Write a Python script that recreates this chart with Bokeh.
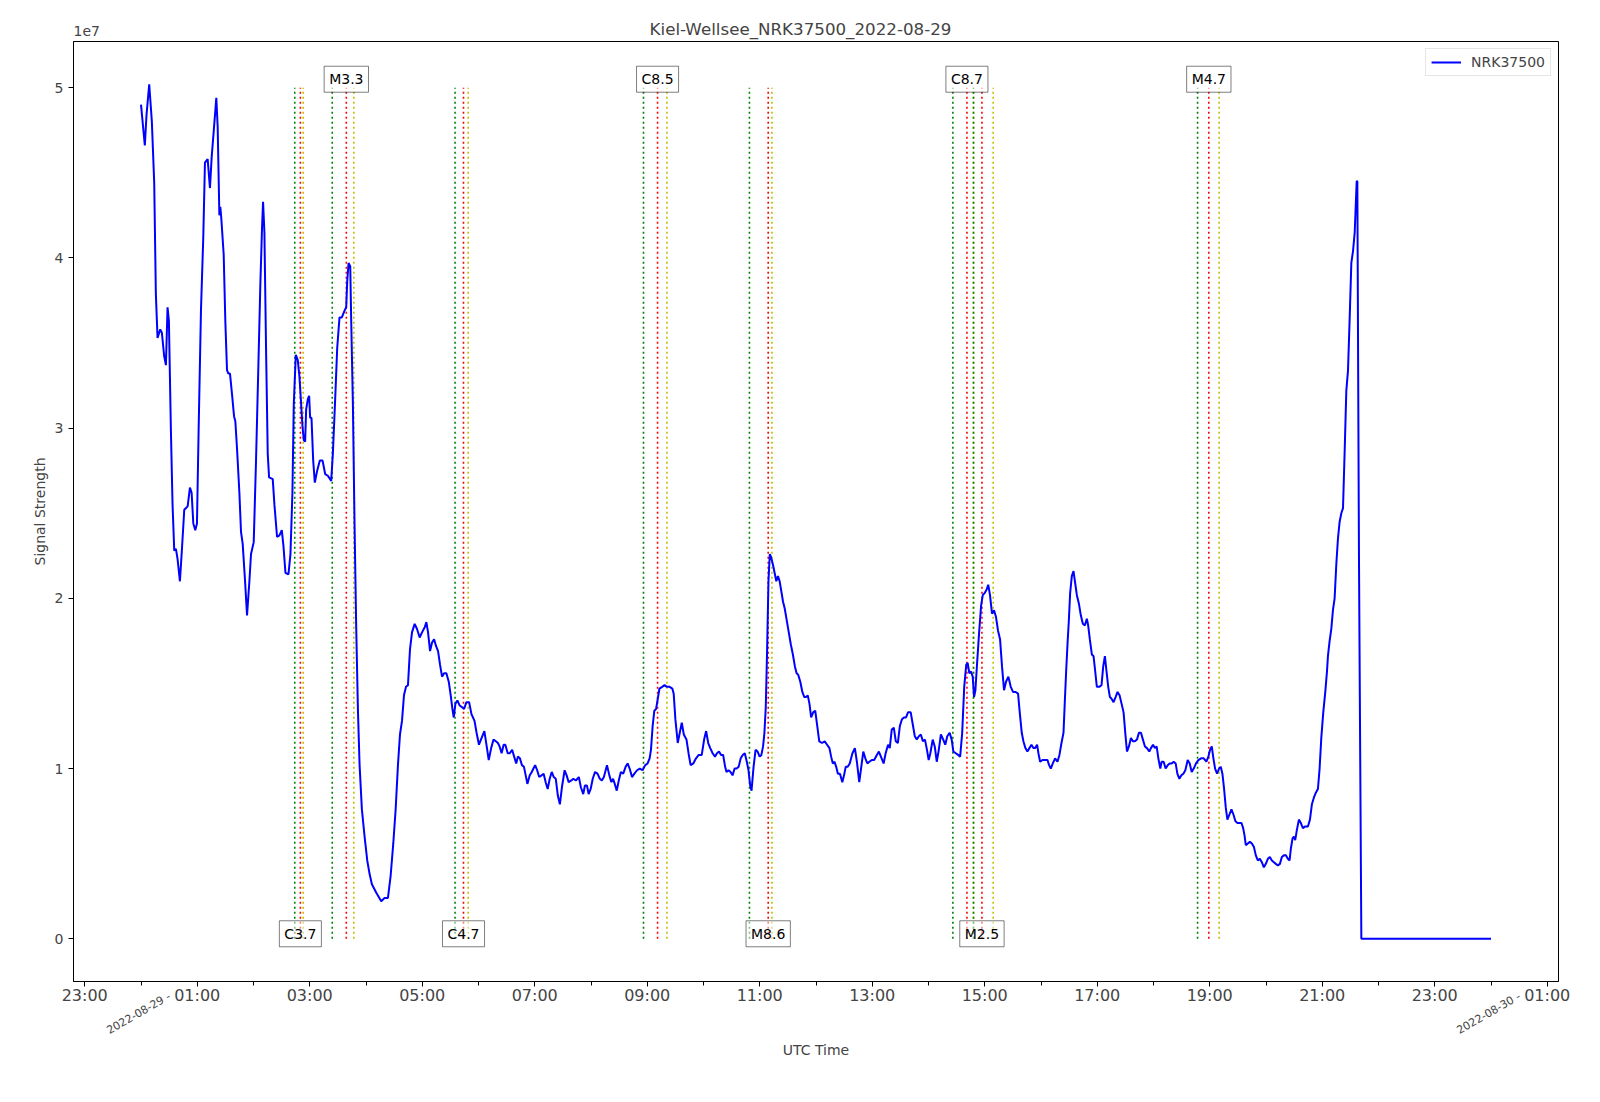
import math
import pandas as pd
from bokeh.plotting import figure
from bokeh.models import (ColumnDataSource, FixedTicker, CustomJSTickFormatter,
                          Label, Legend, LegendItem, Range1d, LinearAxis)
from bokeh.embed import file_html
from bokeh.resources import INLINE

# ---------------- data ----------------
title_text = "Kiel-Wellsee_NRK37500_2022-08-29"
station = "NRK37500"
day = "2022-08-29"

# hours after 2022-08-29 00:00 UTC
hours = [
    0.000, 0.068, 0.098, 0.146, 0.193, 0.235, 0.264, 0.294, 0.342, 0.371, 0.413, 0.443, 0.472, 0.496,
    0.532, 0.561, 0.591, 0.621, 0.650, 0.692, 0.728, 0.769, 0.829, 0.870, 0.900, 0.930, 0.965, 0.995,
    1.024, 1.066, 1.107, 1.137, 1.185, 1.226, 1.256, 1.292, 1.339, 1.363, 1.393, 1.410, 1.428, 1.470,
    1.499, 1.529, 1.553, 1.582, 1.618, 1.654, 1.677, 1.707, 1.749, 1.778, 1.808, 1.850, 1.885, 1.927,
    1.956, 2.004, 2.045, 2.087, 2.123, 2.152, 2.170, 2.194, 2.223, 2.253, 2.277, 2.342, 2.372, 2.419,
    2.461, 2.503, 2.532, 2.568, 2.621, 2.657, 2.692, 2.716, 2.752, 2.787, 2.817, 2.847, 2.871, 2.894,
    2.918, 2.936, 2.966, 2.989, 3.007, 3.031, 3.061, 3.090, 3.132, 3.179, 3.227, 3.274, 3.322, 3.381,
    3.411, 3.452, 3.488, 3.529, 3.571, 3.619, 3.648, 3.666, 3.690, 3.720, 3.737, 3.767, 3.797, 3.826,
    3.856, 3.886, 3.927, 3.975, 4.022, 4.064, 4.105, 4.183, 4.271, 4.331, 4.390, 4.438, 4.485, 4.527,
    4.568, 4.604, 4.640, 4.675, 4.711, 4.746, 4.782, 4.818, 4.865, 4.907, 4.954, 4.996, 5.044, 5.073,
    5.103, 5.139, 5.174, 5.210, 5.245, 5.281, 5.316, 5.352, 5.388, 5.429, 5.471, 5.506, 5.536, 5.560,
    5.589, 5.625, 5.666, 5.708, 5.744, 5.785,
    5.833, 5.875, 5.929, 5.966, 6.008, 6.056, 6.104, 6.146, 6.182, 6.225, 6.267, 6.309, 6.345, 6.375,
    6.411, 6.447, 6.477, 6.519, 6.556, 6.598, 6.634, 6.670, 6.700, 6.736, 6.772, 6.808, 6.839, 6.869,
    6.911, 6.947, 6.977, 7.007, 7.043, 7.079, 7.122, 7.158, 7.194, 7.230, 7.266, 7.302, 7.338, 7.374,
    7.411, 7.447, 7.483, 7.531, 7.567, 7.603, 7.651, 7.687, 7.730, 7.784, 7.820, 7.862, 7.892, 7.928,
    7.958, 7.994, 8.031, 8.073, 8.115, 8.157, 8.193, 8.229, 8.284, 8.326, 8.362, 8.392, 8.422, 8.458,
    8.494, 8.531, 8.573, 8.615, 8.651, 8.687, 8.729, 8.771, 8.819, 8.867, 8.916, 8.964, 9.006, 9.042,
    9.066, 9.096, 9.126, 9.157, 9.187, 9.217, 9.265, 9.307, 9.349, 9.397, 9.446, 9.470, 9.500, 9.542,
    9.578, 9.614, 9.650, 9.698, 9.734, 9.771, 9.819, 9.867, 9.915, 9.969, 10.011, 10.047, 10.084, 10.120,
    10.162, 10.204, 10.240, 10.276, 10.312, 10.349, 10.385, 10.409, 10.445, 10.481, 10.517, 10.553,
    10.589, 10.625, 10.662, 10.698, 10.734, 10.770, 10.800, 10.830, 10.854, 10.890, 10.926, 10.962,
    10.998, 11.029, 11.059, 11.083, 11.107, 11.131, 11.155, 11.179, 11.203, 11.233, 11.264, 11.294,
    11.324, 11.354, 11.384, 11.414, 11.444, 11.480, 11.516, 11.552, 11.589, 11.625, 11.655, 11.685,
    11.721, 11.757, 11.793, 11.823, 11.854, 11.884, 11.914, 11.950, 11.986, 12.022, 12.058, 12.107,
    12.155, 12.197, 12.239, 12.269, 12.299, 12.329, 12.359, 12.389, 12.426, 12.468, 12.498, 12.528,
    12.564, 12.600, 12.648, 12.691, 12.727, 12.769, 12.805, 12.841, 12.877, 12.913, 12.949, 12.992,
    13.034, 13.082, 13.118, 13.154, 13.202, 13.238, 13.281, 13.311, 13.347, 13.383, 13.419, 13.455,
    13.491, 13.528, 13.564, 13.600, 13.636, 13.684, 13.720, 13.756, 13.792, 13.828, 13.864, 13.900,
    13.937, 13.973, 14.003, 14.033, 14.075, 14.111, 14.147, 14.183, 14.220, 14.262, 14.298, 14.334,
    14.376, 14.412, 14.442, 14.485, 14.527, 14.563, 14.599, 14.635, 14.671, 14.696, 14.726, 14.756,
    14.786, 14.810, 14.834, 14.864, 14.900, 14.936, 14.966, 14.996, 15.032, 15.062,
    15.093, 15.129, 15.165, 15.200, 15.236, 15.272, 15.307, 15.343, 15.378, 15.420, 15.462, 15.503,
    15.551, 15.592, 15.622, 15.658, 15.687, 15.723, 15.758, 15.794, 15.830, 15.865, 15.895, 15.931,
    15.954, 15.984, 16.026, 16.067, 16.115, 16.144, 16.174, 16.210, 16.251, 16.293, 16.328, 16.364,
    16.400, 16.423, 16.447, 16.471, 16.495, 16.518, 16.548, 16.578, 16.607, 16.637, 16.673, 16.708,
    16.744, 16.779, 16.815, 16.839, 16.868, 16.904, 16.934, 16.964, 16.993, 17.035, 17.076, 17.106,
    17.136, 17.165, 17.195, 17.225, 17.254, 17.290, 17.326, 17.361, 17.397, 17.433, 17.468, 17.498,
    17.528, 17.563, 17.599, 17.634, 17.670, 17.706, 17.741, 17.777, 17.812, 17.848, 17.884, 17.925,
    17.955, 17.991, 18.026, 18.056, 18.086, 18.121, 18.145, 18.180, 18.216, 18.252, 18.287, 18.323,
    18.358, 18.394, 18.424, 18.460, 18.495, 18.531, 18.566, 18.608, 18.644, 18.679, 18.715, 18.756,
    18.798, 18.846, 18.893, 18.940, 18.976, 19.006, 19.036, 19.065, 19.095, 19.130, 19.166, 19.196,
    19.225, 19.255, 19.285, 19.314, 19.350, 19.386, 19.421, 19.457, 19.493, 19.528, 19.564, 19.594,
    19.617, 19.641, 19.677, 19.713, 19.748, 19.784, 19.819, 19.855, 19.891, 19.926, 19.962, 19.997,
    20.033, 20.068, 20.104, 20.140, 20.175, 20.211, 20.247, 20.282, 20.318, 20.353, 20.389, 20.419,
    20.442, 20.472, 20.496, 20.519, 20.549, 20.585, 20.620, 20.656, 20.698, 20.745, 20.781, 20.816,
    20.852, 20.888, 20.923, 20.953, 20.983, 21.018, 21.054, 21.084, 21.101, 21.131, 21.161, 21.190,
    21.220, 21.250, 21.279, 21.309, 21.339, 21.369, 21.398, 21.428, 21.458, 21.487, 21.517, 21.547,
    21.577, 21.612, 21.624, 21.653, 21.695, 24.000,
]

# signal strength in units of 1e7
signal_1e7 = [
    4.90, 4.66, 4.84, 5.02, 4.80, 4.44, 3.79, 3.53, 3.58, 3.56, 3.42, 3.37, 3.71, 3.63,
    2.98, 2.55, 2.28, 2.29, 2.23, 2.10, 2.29, 2.52, 2.54, 2.65, 2.62, 2.44, 2.40, 2.44,
    2.98, 3.69, 4.12, 4.56, 4.58, 4.41, 4.59, 4.74, 4.94, 4.77, 4.25, 4.30, 4.23, 4.02,
    3.63, 3.34, 3.32, 3.32, 3.20, 3.07, 3.04, 2.88, 2.62, 2.39, 2.32, 2.10, 1.90, 2.10,
    2.26, 2.33, 2.81, 3.37, 3.86, 4.18, 4.33, 4.15, 3.47, 2.85, 2.71, 2.70, 2.55, 2.36,
    2.37, 2.40, 2.31, 2.15, 2.14, 2.26, 2.62, 3.14, 3.43, 3.40, 3.30, 3.14, 3.01, 2.93,
    2.92, 3.11, 3.17, 3.19, 3.06, 3.06, 2.81, 2.68, 2.75, 2.81, 2.81, 2.73, 2.72, 2.69,
    2.85, 3.17, 3.47, 3.65, 3.65, 3.69, 3.71, 3.86, 3.97, 3.95, 3.63, 3.14, 2.42, 1.83,
    1.35, 1.02, 0.76, 0.60, 0.46, 0.38, 0.32, 0.27, 0.22, 0.24, 0.24, 0.37, 0.56, 0.76,
    1.02, 1.20, 1.28, 1.43, 1.48, 1.49, 1.70, 1.80, 1.85, 1.82, 1.77, 1.80, 1.83, 1.86,
    1.80, 1.69, 1.74, 1.76, 1.72, 1.69, 1.61, 1.54, 1.56, 1.56, 1.51, 1.43, 1.35, 1.30,
    1.38, 1.40, 1.37, 1.36, 1.35, 1.39,
    1.39, 1.32, 1.28, 1.21, 1.14, 1.18, 1.22, 1.13, 1.05, 1.12, 1.17, 1.16, 1.15, 1.13,
    1.09, 1.14, 1.14, 1.09, 1.09, 1.11, 1.07, 1.03, 1.07, 1.06, 1.02, 1.01, 0.96, 0.91,
    0.96, 0.98, 1.00, 1.02, 0.99, 0.95, 0.96, 0.97, 0.92, 0.88, 0.94, 0.98, 0.95, 0.94,
    0.84, 0.79, 0.89, 0.99, 0.96, 0.92, 0.93, 0.94, 0.93, 0.95, 0.89, 0.85, 0.90, 0.90,
    0.85, 0.88, 0.94, 0.98, 0.97, 0.94, 0.93, 0.95, 1.02, 0.96, 0.92, 0.94, 0.91, 0.87,
    0.93, 0.98, 0.97, 1.01, 1.03, 1.00, 0.95, 0.97, 0.99, 1.00, 0.99, 1.02, 1.03, 1.06,
    1.11, 1.25, 1.34, 1.35, 1.41, 1.47, 1.48, 1.49, 1.48, 1.48, 1.47, 1.44, 1.29, 1.15,
    1.21, 1.27, 1.20, 1.17, 1.09, 1.02, 1.03, 1.06, 1.08, 1.08, 1.17, 1.22, 1.15, 1.12,
    1.09, 1.07, 1.09, 1.10, 1.08, 1.08, 1.01, 0.98, 0.99, 0.98, 0.96, 1.00,
    1.00, 1.01, 1.06, 1.08, 1.09, 1.04, 0.99, 0.90, 0.87, 1.01, 1.11, 1.10,
    1.07, 1.08, 1.13, 1.21, 1.36, 1.70, 2.10, 2.26, 2.24, 2.20, 2.15, 2.10,
    2.13, 2.10, 2.04, 1.98, 1.94, 1.87, 1.80, 1.73, 1.67, 1.60, 1.56, 1.55,
    1.51, 1.45, 1.42, 1.42, 1.43, 1.38, 1.30, 1.33, 1.34, 1.25, 1.16, 1.15,
    1.16, 1.14, 1.12, 1.07, 1.03, 1.04, 1.01, 0.97, 0.97, 0.92, 0.96, 1.01,
    1.01, 1.03, 1.09, 1.12, 1.04, 0.92, 1.01, 1.10, 1.06, 1.03, 1.04, 1.05,
    1.05, 1.08, 1.10, 1.07, 1.03, 1.09, 1.14, 1.12, 1.23, 1.24, 1.16, 1.15,
    1.25, 1.29, 1.30, 1.30, 1.33, 1.33, 1.26, 1.19, 1.17, 1.19, 1.20, 1.16,
    1.17, 1.11, 1.05, 1.09, 1.17, 1.13, 1.04, 1.11, 1.20, 1.17, 1.14, 1.19,
    1.21, 1.17, 1.10, 1.09, 1.08, 1.07, 1.21, 1.48, 1.61, 1.62, 1.56, 1.57,
    1.54, 1.42, 1.46, 1.62, 1.80, 1.96, 2.02, 2.03, 2.05, 2.08,
    2.02, 1.91, 1.93, 1.89, 1.81, 1.76, 1.60, 1.46, 1.51, 1.54, 1.48, 1.45,
    1.45, 1.44, 1.33, 1.21, 1.16, 1.12, 1.10, 1.12, 1.14, 1.12, 1.12, 1.14,
    1.09, 1.04, 1.05, 1.05, 1.05, 1.02, 1.00, 1.03, 1.06, 1.04, 1.08, 1.15,
    1.21, 1.39, 1.57, 1.73, 1.87, 2.03, 2.13, 2.16, 2.09, 2.02, 1.97, 1.90,
    1.85, 1.84, 1.88, 1.84, 1.76, 1.67, 1.66, 1.57, 1.48, 1.48, 1.49, 1.60,
    1.66, 1.57, 1.48, 1.42, 1.41, 1.39, 1.42, 1.45, 1.43, 1.38, 1.33, 1.21,
    1.10, 1.13, 1.18, 1.16, 1.16, 1.17, 1.21, 1.21, 1.17, 1.13, 1.12, 1.10,
    1.12, 1.14, 1.12, 1.13, 1.06, 1.00, 1.04, 1.04, 1.00, 1.02, 1.03, 1.03,
    1.04, 1.03, 0.97, 0.94, 0.96, 0.97, 0.99, 1.05, 1.03, 0.98, 1.00, 1.03,
    1.05, 1.06, 1.06, 1.04, 1.07, 1.11, 1.13, 1.06, 1.00, 0.97, 1.00, 1.01,
    0.97, 0.88, 0.77, 0.70, 0.73, 0.76, 0.73, 0.69, 0.68, 0.68, 0.68, 0.65,
    0.61, 0.55, 0.56, 0.57, 0.56, 0.54, 0.49, 0.46, 0.47, 0.45, 0.42, 0.44,
    0.47, 0.48, 0.46, 0.45, 0.44, 0.43, 0.44, 0.48, 0.49, 0.49, 0.47, 0.46,
    0.53, 0.59, 0.60, 0.58, 0.64, 0.70, 0.68, 0.65, 0.66, 0.66, 0.70, 0.79,
    0.83, 0.86, 0.88, 1.00, 1.18, 1.33, 1.45, 1.57, 1.66, 1.75, 1.82, 1.93,
    2.00, 2.20, 2.35, 2.45, 2.50, 2.53, 2.86, 3.22, 3.34, 3.64, 3.97, 4.04,
    4.15, 4.45, 4.45, 2.23, 0.00, 0.00,
]

# solar flares (UTC): class, start, peak, end
flare_class = ["C3.7", "M3.3", "C4.7", "C8.5", "M8.6", "C8.7", "M2.5", "M4.7"]
flare_start = ["02:44", "03:24", "05:35", "08:56", "10:49", "14:26", "14:48", "18:47"]
flare_peak = ["02:50", "03:39", "05:44", "09:11", "11:09", "14:41", "14:57", "18:59"]
flare_end = ["02:53", "03:47", "05:49", "09:21", "11:13", "14:48", "15:09", "19:10"]
flare_label_pos = ["bottom", "top", "bottom", "top", "bottom", "top", "bottom", "top"]

major_tick_hours = list(range(-1, 26, 2))   # 23:00 ... 01:00
minor_tick_hours = list(range(0, 25, 2))    # even hours
date_label_hours = [0, 24]
date_label_text = ["2022-08-29 -", "2022-08-30 -"]
y_ticks_1e7 = [0, 1, 2, 3, 4, 5]
offset_text = "1e7"
flare_line_top_1e7 = 5.0

# ---------------- layout constants ----------------
FONT = "DejaVu Sans"
FIG_W, FIG_H = 1584, 1086
B_LEFT, B_RIGHT, B_TOP, B_BOTTOM = 73, 26, 41, 105
FRAME_W = FIG_W - B_LEFT - B_RIGHT
SCALE = 1e7
HOUR_MS = 3600 * 1000
base_ms = pd.Timestamp(day).timestamp() * 1000


def to_ms(h):
    return base_ms + h * HOUR_MS


def hm_to_hours(s):
    hh, mm = s.split(":")
    return int(hh) + int(mm) / 60.0


xs = [to_ms(h) for h in hours]
ys = [v * SCALE for v in signal_1e7]

xspan = max(hours) - min(hours)
yspan = max(signal_1e7) - min(signal_1e7)
x_start = to_ms(min(hours) - 0.05 * xspan)
x_end = to_ms(max(hours) + 0.05 * xspan)
y_start = (min(signal_1e7) - 0.05 * yspan) * SCALE
y_end = (max(signal_1e7) + 0.05 * yspan) * SCALE
ms_per_px = (x_end - x_start) / FRAME_W

p = figure(width=FIG_W, height=FIG_H, output_backend="svg", toolbar_location=None,
           x_axis_type="datetime",
           x_range=Range1d(x_start, x_end), y_range=Range1d(y_start, y_end),
           min_border_left=B_LEFT, min_border_right=B_RIGHT,
           min_border_top=B_TOP, min_border_bottom=B_BOTTOM)
p.title.text = ""
p.title.visible = False

p.xgrid.visible = False
p.ygrid.visible = False
p.outline_line_color = "black"
p.outline_line_width = 1
p.outline_line_alpha = 1.0
p.background_fill_color = "white"
p.border_fill_color = "white"

# x axis (hours)
xa = p.xaxis[0]
xa.ticker = FixedTicker(ticks=[to_ms(h) for h in major_tick_hours],
                        minor_ticks=[to_ms(h) for h in minor_tick_hours])
xa.formatter = CustomJSTickFormatter(code="""
const d = new Date(tick);
const h = d.getUTCHours();
const m = d.getUTCMinutes();
return (h < 10 ? '0' : '') + h + ':' + (m < 10 ? '0' : '') + m;
""")
xa.major_label_text_font = FONT
xa.major_label_text_font_size = "16px"
xa.major_label_standoff = -1
xa.major_tick_out = 5
xa.major_tick_in = 0
xa.minor_tick_out = 4
xa.minor_tick_in = 0
xa.axis_line_color = "black"

# second bottom axis: rotated date labels + axis title
date_w_px = 66.0  # approximate rendered width of a date label at 11px
date_shift = 0.5 * date_w_px * math.cos(math.radians(30)) * ms_per_px
xdate = LinearAxis(
    ticker=FixedTicker(ticks=[to_ms(h) + date_shift for h in date_label_hours], minor_ticks=[]),
    formatter=CustomJSTickFormatter(args=dict(labels=date_label_text), code="return labels[index];"),
    major_label_orientation=math.pi / 6,
    major_label_text_font=FONT, major_label_text_font_size="11px",
    major_label_standoff=-12, major_tick_out=0, major_tick_in=0,
    minor_tick_out=0, minor_tick_in=0,
    axis_line_color=None, major_tick_line_color=None, minor_tick_line_color=None,
    axis_label="UTC Time", axis_label_text_font=FONT, axis_label_text_font_size="14px",
    axis_label_text_font_style="normal", axis_label_standoff=-3)
p.add_layout(xdate, "below")

# y axis
ya = p.yaxis[0]
ya.ticker = FixedTicker(ticks=[v * SCALE for v in y_ticks_1e7], minor_ticks=[])
ya.formatter = CustomJSTickFormatter(code="return (tick / 1e7).toFixed(0);")
ya.axis_label = "Signal Strength"
ya.axis_label_text_font = FONT
ya.axis_label_text_font_size = "14px"
ya.axis_label_text_font_style = "normal"
ya.axis_label_standoff = 4
ya.major_label_text_font = FONT
ya.major_label_text_font_size = "14px"
ya.major_label_standoff = 5
ya.major_tick_out = 5
ya.major_tick_in = 0
ya.minor_tick_line_color = None
ya.major_label_orientation = "horizontal"

# top: offset text "1e7" (left) and the figure title (centered on the figure)
offs_w_px = 26.4
top1 = LinearAxis(
    ticker=FixedTicker(ticks=[x_start + 0.5 * offs_w_px * ms_per_px], minor_ticks=[]),
    formatter=CustomJSTickFormatter(args=dict(t=offset_text), code="return t;"),
    major_label_text_font=FONT, major_label_text_font_size="14px",
    major_label_standoff=6, major_tick_out=0, major_tick_in=0, minor_tick_out=0, minor_tick_in=0,
    axis_line_color=None, major_tick_line_color=None, minor_tick_line_color=None)
p.add_layout(top1, "above")
top2 = LinearAxis(
    ticker=FixedTicker(ticks=[x_start + (FIG_W / 2 + 8 - B_LEFT) * ms_per_px], minor_ticks=[]),
    formatter=CustomJSTickFormatter(args=dict(t=title_text), code="return t;"),
    major_label_text_font=FONT, major_label_text_font_size="16.7px",
    major_label_standoff=-16, major_tick_out=0, major_tick_in=0, minor_tick_out=0, minor_tick_in=0,
    axis_line_color=None, major_tick_line_color=None, minor_tick_line_color=None)
p.add_layout(top2, "above")

# flare lines: per flare start (green), peak (red), end (yellow)
fx, fcol = [], []
for s, pk, e in zip(flare_start, flare_peak, flare_end):
    for t, c in ((s, "#008000"), (pk, "#ff0000"), (e, "#bfbf00")):
        fx.append(to_ms(hm_to_hours(t)))
        fcol.append(c)
fsrc = ColumnDataSource(dict(x=fx, y0=[0.0] * len(fx),
                             y1=[flare_line_top_1e7 * SCALE] * len(fx), color=fcol))
p.segment(x0="x", y0="y0", x1="x", y1="y1", color="color", source=fsrc,
          line_width=1.6, line_dash="2 3")

# signal line
src = ColumnDataSource(dict(x=xs, y=ys))
r_line = p.line("x", "y", source=src, color="#0000ff", line_width=2)

# flare labels
for cls, pk, pos in zip(flare_class, flare_peak, flare_label_pos):
    yv = max(signal_1e7) * SCALE if pos == "top" else min(signal_1e7) * SCALE
    p.add_layout(Label(x=to_ms(hm_to_hours(pk)), y=yv, y_offset=5, text=cls, text_font=FONT,
                       text_font_size="14px", text_align="center", text_baseline="alphabetic",
                       text_color="black",
                       background_fill_color="white", background_fill_alpha=0.5,
                       border_line_color="black", border_line_alpha=0.5, border_line_width=1,
                       padding=5))

legend = Legend(items=[LegendItem(label=station, renderers=[r_line])],
                location="top_right", label_text_font=FONT, label_text_font_size="14px",
                border_line_color="#cccccc", border_line_width=1,
                background_fill_alpha=0.8, margin=7, padding=5, spacing=0,
                glyph_width=30, glyph_height=16, label_standoff=10, label_height=16)
p.add_layout(legend)

open("out.html", "w").write(file_html(p, INLINE))
